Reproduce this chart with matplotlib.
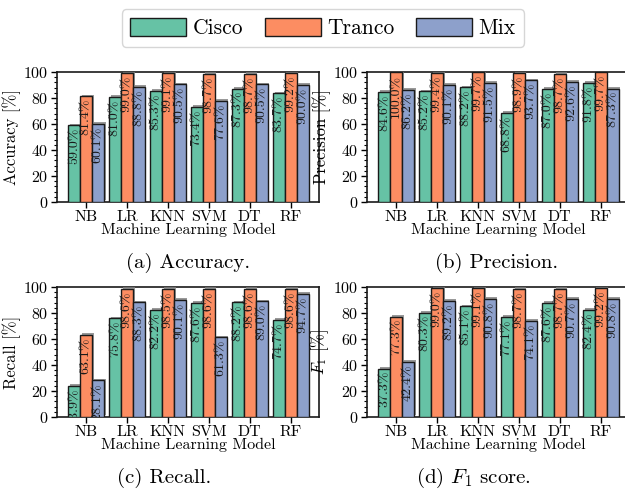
import matplotlib
matplotlib.use("Agg")
import matplotlib.pyplot as plt
import matplotlib.patheffects as pe
from matplotlib.ticker import AutoMinorLocator, MultipleLocator
from matplotlib.patches import Patch
import numpy as np

plt.rcParams['font.family'] = ['cmr10', 'DejaVu Serif']
plt.rcParams['mathtext.fontset'] = 'cm'
plt.rcParams['axes.formatter.use_mathtext'] = True

models = ["NB", "LR", "KNN", "SVM", "DT", "RF"]
datasets = ["Cisco", "Tranco", "Mix"]

accuracy_cisco = [59.0, 81.0, 85.3, 73.4, 87.3, 83.7]
accuracy_tranco = [81.4, 99.0, 99.1, 98.7, 98.7, 99.2]
accuracy_mix = [60.1, 88.8, 90.5, 77.6, 90.5, 90.0]

precision_cisco = [84.6, 85.2, 88.2, 68.8, 87.0, 91.8]
precision_tranco = [100.0, 99.4, 99.7, 98.9, 98.7, 99.7]
precision_mix = [86.2, 90.1, 91.5, 93.7, 92.6, 87.3]

recall_cisco = [23.9, 75.8, 82.2, 87.6, 88.2, 74.7]
recall_tranco = [63.1, 98.6, 98.5, 98.6, 98.6, 98.6]
recall_mix = [28.1, 88.3, 90.1, 61.3, 89.0, 94.7]

f1_cisco = [37.3, 80.3, 85.1, 77.1, 87.6, 82.4]
f1_tranco = [77.3, 99.0, 99.1, 98.7, 98.7, 99.2]
f1_mix = [42.4, 89.2, 90.8, 74.1, 90.7, 90.8]

colors = ["#66c2a5", "#fc8d62", "#8da0cb"]

panels = [
    ("Accuracy [%]", "(a) Accuracy.", [accuracy_cisco, accuracy_tranco, accuracy_mix]),
    ("Precision [%]", "(b) Precision.", [precision_cisco, precision_tranco, precision_mix]),
    ("Recall [%]", "(c) Recall.", [recall_cisco, recall_tranco, recall_mix]),
    (r"$F_1$ [%]", r"(d) $F_1$ score.", [f1_cisco, f1_tranco, f1_mix]),
]

W, H = 625, 490
fig = plt.figure(figsize=(W / 100, H / 100), dpi=100)

# axes boxes in pixel coords: (left, top, right, bottom)
boxes = [(57, 72, 319, 202), (367, 72, 629, 202), (57, 287, 319, 417), (367, 287, 629, 417)]
captions_pos = [(188, 263), (497, 263), (164, 478), (473, 478)]

width = 0.29
x = np.arange(len(models))
shadow = [pe.SimplePatchShadow(offset=(1.2, 1.2), shadow_rgbFace='#808080', alpha=0.8), pe.Normal()]

for (ylabel, caption, series), (l, t, r, b), (cx, cy) in zip(panels, boxes, captions_pos):
    ax = fig.add_axes([l / W, 1 - b / H, (r - l) / W, (b - t) / H])
    for i, (vals, col) in enumerate(zip(series, colors)):
        xs = x + (i - 1) * width
        bars = ax.bar(xs, vals, width, color=col, edgecolor='#1a1a1a', linewidth=1.0, zorder=3)
        for bar in bars:
            bar.set_path_effects(shadow)
        for xi, v in zip(xs, vals):
            ax.text(xi, v - 2.0, f"{v:.1f}%", rotation=90, ha='center', va='top',
                    fontsize=10, color='#1a1a1a', zorder=4, clip_on=True)
    ax.set_xlim(-0.71, 5.69)
    ax.set_ylim(0, 100)
    ax.set_xticks(x)
    ax.set_xticklabels(models, fontsize=11.5)
    ax.yaxis.set_major_locator(MultipleLocator(20))
    ax.yaxis.set_minor_locator(AutoMinorLocator(5))
    ax.tick_params(axis='y', which='major', labelsize=11.5, length=4, width=1.0, pad=2)
    ax.tick_params(axis='y', which='minor', length=2, width=0.8)
    ax.tick_params(axis='x', length=4, width=1.0, pad=2)
    ax.set_ylabel(ylabel, fontsize=12, labelpad=2)
    ax.set_xlabel("Machine Learning Model", fontsize=11.5, labelpad=-1)
    for s in ax.spines.values():
        s.set_linewidth(1.2)
        s.set_color('#1a1a1a')
    fig.text(cx / W, 1 - cy / H, caption, ha='center', va='center', fontsize=15)

handles = [Patch(facecolor=c, edgecolor='#1a1a1a', linewidth=1.0, label=d) for c, d in zip(colors, datasets)]
fig.legend(handles=handles, loc='center', bbox_to_anchor=(323 / W, 1 - 28 / H), ncol=3,
           fontsize=15.5, frameon=True, fancybox=True, edgecolor='#cccccc',
           handlelength=2.6, handleheight=0.9, columnspacing=1.0, handletextpad=0.3,
           borderpad=0.4)

fig.savefig("out.png", dpi=100)
